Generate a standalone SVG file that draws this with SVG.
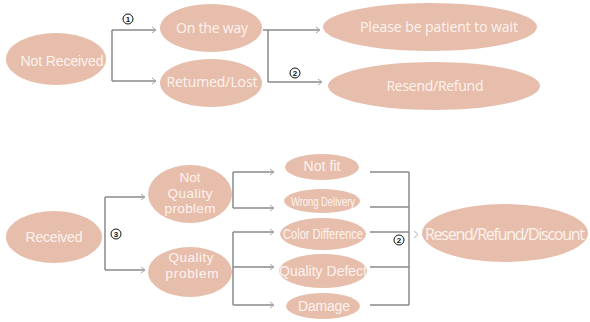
<svg xmlns="http://www.w3.org/2000/svg" width="590" height="322" viewBox="0 0 590 322">
<defs>
<style>
.n{fill:#e7beac}
.t{fill:#fdf3ee;font-family:"Liberation Sans",Arial,sans-serif;font-size:14px;text-anchor:middle}
.h{font-family:"Open Sans","Liberation Sans",sans-serif}
.m{font-size:13.5px}
.c{fill:none;stroke:#8a8a8a;stroke-width:1.5}
.a{fill:none;stroke:#b0b0b0;stroke-width:1}
.num circle{fill:#fff;stroke:#111;stroke-width:1}
.num text{fill:#111;font-family:"Liberation Sans",Arial,sans-serif;font-size:8px;font-weight:bold;text-anchor:middle}
</style>
<marker id="arr" markerWidth="6" markerHeight="8" refX="5" refY="4" orient="auto" markerUnits="userSpaceOnUse">
<path d="M1,1 L5,4 L1,7" fill="none" stroke="#a8a8a8" stroke-width="1"/>
</marker>
</defs>
<rect width="590" height="322" fill="#fff"/>
<g id="connectors">
<path class="c" d="M112,30 V81"/>
<path class="c" d="M112,30 H156" marker-end="url(#arr)"/>
<path class="c" d="M112,81 H156" marker-end="url(#arr)"/>
<path class="c" d="M268,30 V82"/>
<path class="c" d="M263,30 H320" marker-end="url(#arr)"/>
<path class="c" d="M268,82 H322" marker-end="url(#arr)"/>
<path class="c" d="M105,197 V270"/>
<path class="c" d="M105,197 H145" marker-end="url(#arr)"/>
<path class="c" d="M105,270 H145" marker-end="url(#arr)"/>
<path class="c" d="M233,172 V208"/>
<path class="c" d="M233,172 H274" marker-end="url(#arr)"/>
<path class="c" d="M233,208 H274" marker-end="url(#arr)"/>
<path class="c" d="M233,232 V305"/>
<path class="c" d="M233,232 H274" marker-end="url(#arr)"/>
<path class="c" d="M233,267 H274" marker-end="url(#arr)"/>
<path class="c" d="M233,305 H274" marker-end="url(#arr)"/>
<path class="c" d="M370,172 H409 M370,207 H409 M370,232 H409 M370,267 H409 M370,305 H409 M409,172 V305"/>
<path class="a" d="M414,231 L418,234.5 L414,238"/>
</g>
<g id="labels">
<g class="num"><circle cx="128" cy="19" r="5"/><text x="128" y="21.8">1</text></g>
<g class="num"><circle cx="295" cy="73" r="5"/><text x="295" y="75.8">2</text></g>
<g class="num"><circle cx="116" cy="234" r="5"/><text x="116" y="236.8">3</text></g>
<g class="num"><circle cx="399" cy="240" r="5"/><text x="399" y="242.8">2</text></g>
</g>
<g id="not-received"><ellipse class="n" cx="56" cy="59" rx="50" ry="26"/><text class="t" x="62" y="66" textLength="83">Not Received</text></g>
<g id="on-the-way"><ellipse class="n" cx="211" cy="28" rx="51" ry="24"/><text class="t h" x="212" y="33" textLength="72">On the way</text></g>
<g id="returned-lost"><ellipse class="n" cx="211" cy="83" rx="51" ry="24"/><text class="t h" x="212" y="87" textLength="91">Retumed/Lost</text></g>
<g id="please-wait"><ellipse class="n" cx="430" cy="27" rx="107" ry="24"/><text class="t h" x="439" y="32" textLength="158">Please be patient to wait</text></g>
<g id="resend-refund"><ellipse class="n" cx="434" cy="86" rx="106" ry="24"/><text class="t h" x="435" y="91" textLength="97">Resend/Refund</text></g>
<g id="received"><ellipse class="n" cx="54" cy="237" rx="48" ry="26"/><text class="t" x="54" y="242" textLength="57">Received</text></g>
<g id="not-quality-problem"><ellipse class="n" cx="190" cy="194" rx="42" ry="29"/><text class="t m" x="190" y="182">Not</text><text class="t m" x="190" y="197.5" textLength="45">Quality</text><text class="t m" x="190" y="213" textLength="51">problem</text></g>
<g id="quality-problem"><ellipse class="n" cx="190" cy="272" rx="42" ry="25"/><text class="t m" x="191" y="262" textLength="45">Quality</text><text class="t m" x="192" y="278" textLength="53">problem</text></g>
<g id="not-fit"><ellipse class="n" cx="322" cy="167" rx="37" ry="13"/><text class="t" x="322" y="171" textLength="37">Not fit</text></g>
<g id="wrong-delivery"><ellipse class="n" cx="322" cy="201" rx="38" ry="12"/><text class="t" x="323" y="206" style="font-size:13px" textLength="64" lengthAdjust="spacingAndGlyphs">Wrong Delivery</text></g>
<g id="color-difference"><ellipse class="n" cx="323" cy="234" rx="43" ry="16"/><text class="t" x="323" y="239" style="font-size:14px" textLength="80" lengthAdjust="spacingAndGlyphs">Color Difference</text></g>
<g id="quality-defect"><ellipse class="n" cx="323" cy="271" rx="44" ry="17"/><text class="t" x="323" y="276" textLength="88">Quality Defect</text></g>
<g id="damage"><ellipse class="n" cx="323" cy="306" rx="37" ry="13"/><text class="t" x="324" y="311" textLength="52">Damage</text></g>
<g id="resend-refund-discount"><ellipse class="n" cx="505" cy="233" rx="83" ry="29"/><text class="t h" x="505" y="240" style="font-size:16px" textLength="160">Resend/Refund/Discount</text></g>
</svg>
